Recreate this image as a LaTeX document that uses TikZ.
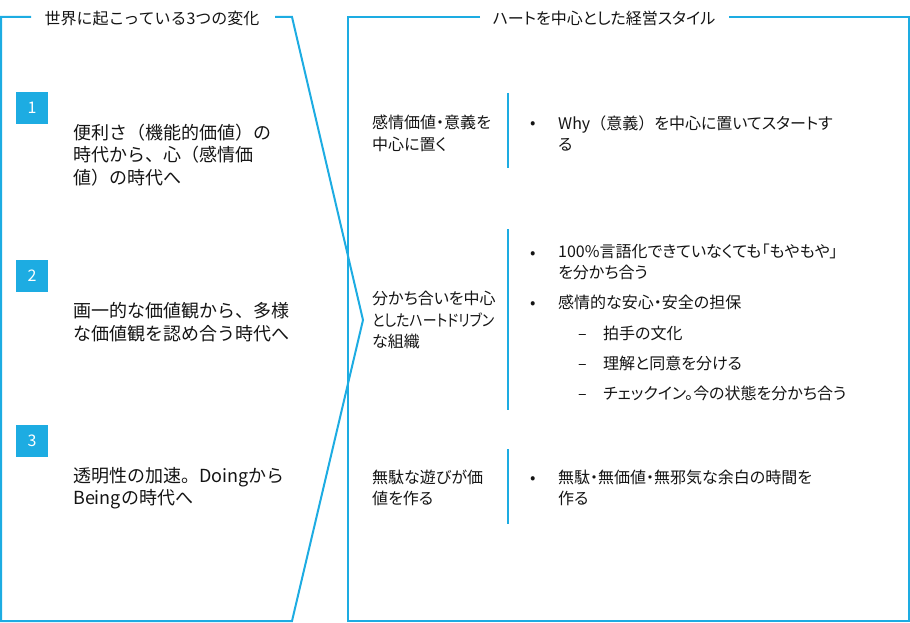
\documentclass[tikz,border=0pt]{standalone}
\usepackage{fontspec}
\setmainfont{Noto Sans CJK JP}
\newfontfamily\propfont{Noto Sans CJK JP}[RawFeature=+palt]
\newfontfamily\narrowfont{Noto Sans CJK JP}[RawFeature=+palt, FakeStretch=0.87]
\newcommand{\fwparen}[1]{{\normalfont\fontsize{16}{21}\selectfont #1}}
\definecolor{heartblue}{RGB}{29,172,226}
\definecolor{inktext}{RGB}{20,20,20}

\begin{document}
\begin{tikzpicture}[x=1pt, y=-1pt,
  frame/.style={draw=heartblue, line width=2pt},
  numbox/.style={fill=heartblue, text=white, minimum size=32pt, inner sep=0pt, font=\fontsize{16}{16}\selectfont},
  heading/.style={inner sep=0pt, text=inktext, font=\fontsize{16}{16}\selectfont},
  change/.style={anchor=west, align=left, inner sep=0pt, text=inktext, font=\fontsize{18}{22.5}\selectfont},
  rowlabel/.style={anchor=west, align=left, inner sep=0pt, text=inktext, font=\propfont\fontsize{16}{21.5}\selectfont},
  item/.style={anchor=west, align=left, inner sep=0pt, text=inktext, font=\propfont\fontsize{16}{21}\selectfont},
  bulletdot/.style={anchor=west, inner sep=0pt, text=inktext, text height=14pt, text depth=2pt, font=\fontsize{16}{16}\selectfont},
  divider/.style={draw=heartblue, line width=2pt}
]
  \useasboundingbox (0,0) rectangle (910,623);

  % Frames
  \draw[frame] (31,17) -- (1,17) -- (1,621) -- (292,621) -- (363,320) -- (292,17) -- (275,17);
  \draw[frame] (480,17) -- (348,17) -- (348,621) -- (909,621) -- (909,17) -- (729,17);

  % Headings
  \node[heading] (lhead) at (152,18) {世界に起こっている3つの変化};
  \node[heading, font=\propfont\fontsize{16}{16}\selectfont] (rhead) at (604,18) {ハートを中心とした経営スタイル};

  % Three changes
  \node[numbox] (n1) at (32,108) {1};
  \node[numbox] (n2) at (32,276) {2};
  \node[numbox] (n3) at (32,441) {3};
  \node[change] (c1) at (73,155) {便利さ（機能的価値）の\\時代から、心（感情価\\値）の時代へ};
  \node[change] (c2) at (73,322) {画一的な価値観から、多様\\な価値観を認め合う時代へ};
  \node[change] (c3) at (73,488) {透明性の加速。Doingから\\Beingの時代へ};

  % Row labels
  \node[rowlabel] (r1) at (372,133.5) {感情価値・意義を\\中心に置く};
  \node[rowlabel] (r2) at (372,320) {分かち合いを中心\\{\narrowfont としたハートドリブン}\\な組織};
  \node[rowlabel] (r3) at (372,488) {無駄な遊びが価\\値を作る};

  % Dividers
  \coordinate (d1a) at (508,93);  \coordinate (d1b) at (508,168);
  \coordinate (d2a) at (508,229); \coordinate (d2b) at (508,410);
  \coordinate (d3a) at (508,449); \coordinate (d3b) at (508,524);
  \draw[divider] (d1a) -- (d1b);
  \draw[divider] (d2a) -- (d2b);
  \draw[divider] (d3a) -- (d3b);

  % Bullets
  \node[bulletdot] (b1) at (530,123) {•};
  \node[item] (i1) at (558,133.5) {Why\fwparen{（}意義\fwparen{）}を中心に置いてスタートす\\る};
  \node[bulletdot] (b2) at (530,252) {•};
  \node[item] (i2) at (558,262) {100\%言語化できていなくても「もやもや」\\を分かち合う};
  \node[bulletdot] (b3) at (530,302) {•};
  \node[item] (i3) at (558,302) {感情的な安心・安全の担保};
  \node[bulletdot] (s1) at (578,333) {–};
  \node[item] (i4) at (603,333) {拍手の文化};
  \node[bulletdot] (s2) at (578,363) {–};
  \node[item] (i5) at (603,363) {理解と同意を分ける};
  \node[bulletdot] (s3) at (578,393) {–};
  \node[item] (i6) at (603,393) {チェックイン。今の状態を分かち合う};
  \node[bulletdot] (b4) at (530,477) {•};
  \node[item] (i7) at (558,488) {無駄・無価値・無邪気な余白の時間を\\作る};
\end{tikzpicture}
\end{document}
